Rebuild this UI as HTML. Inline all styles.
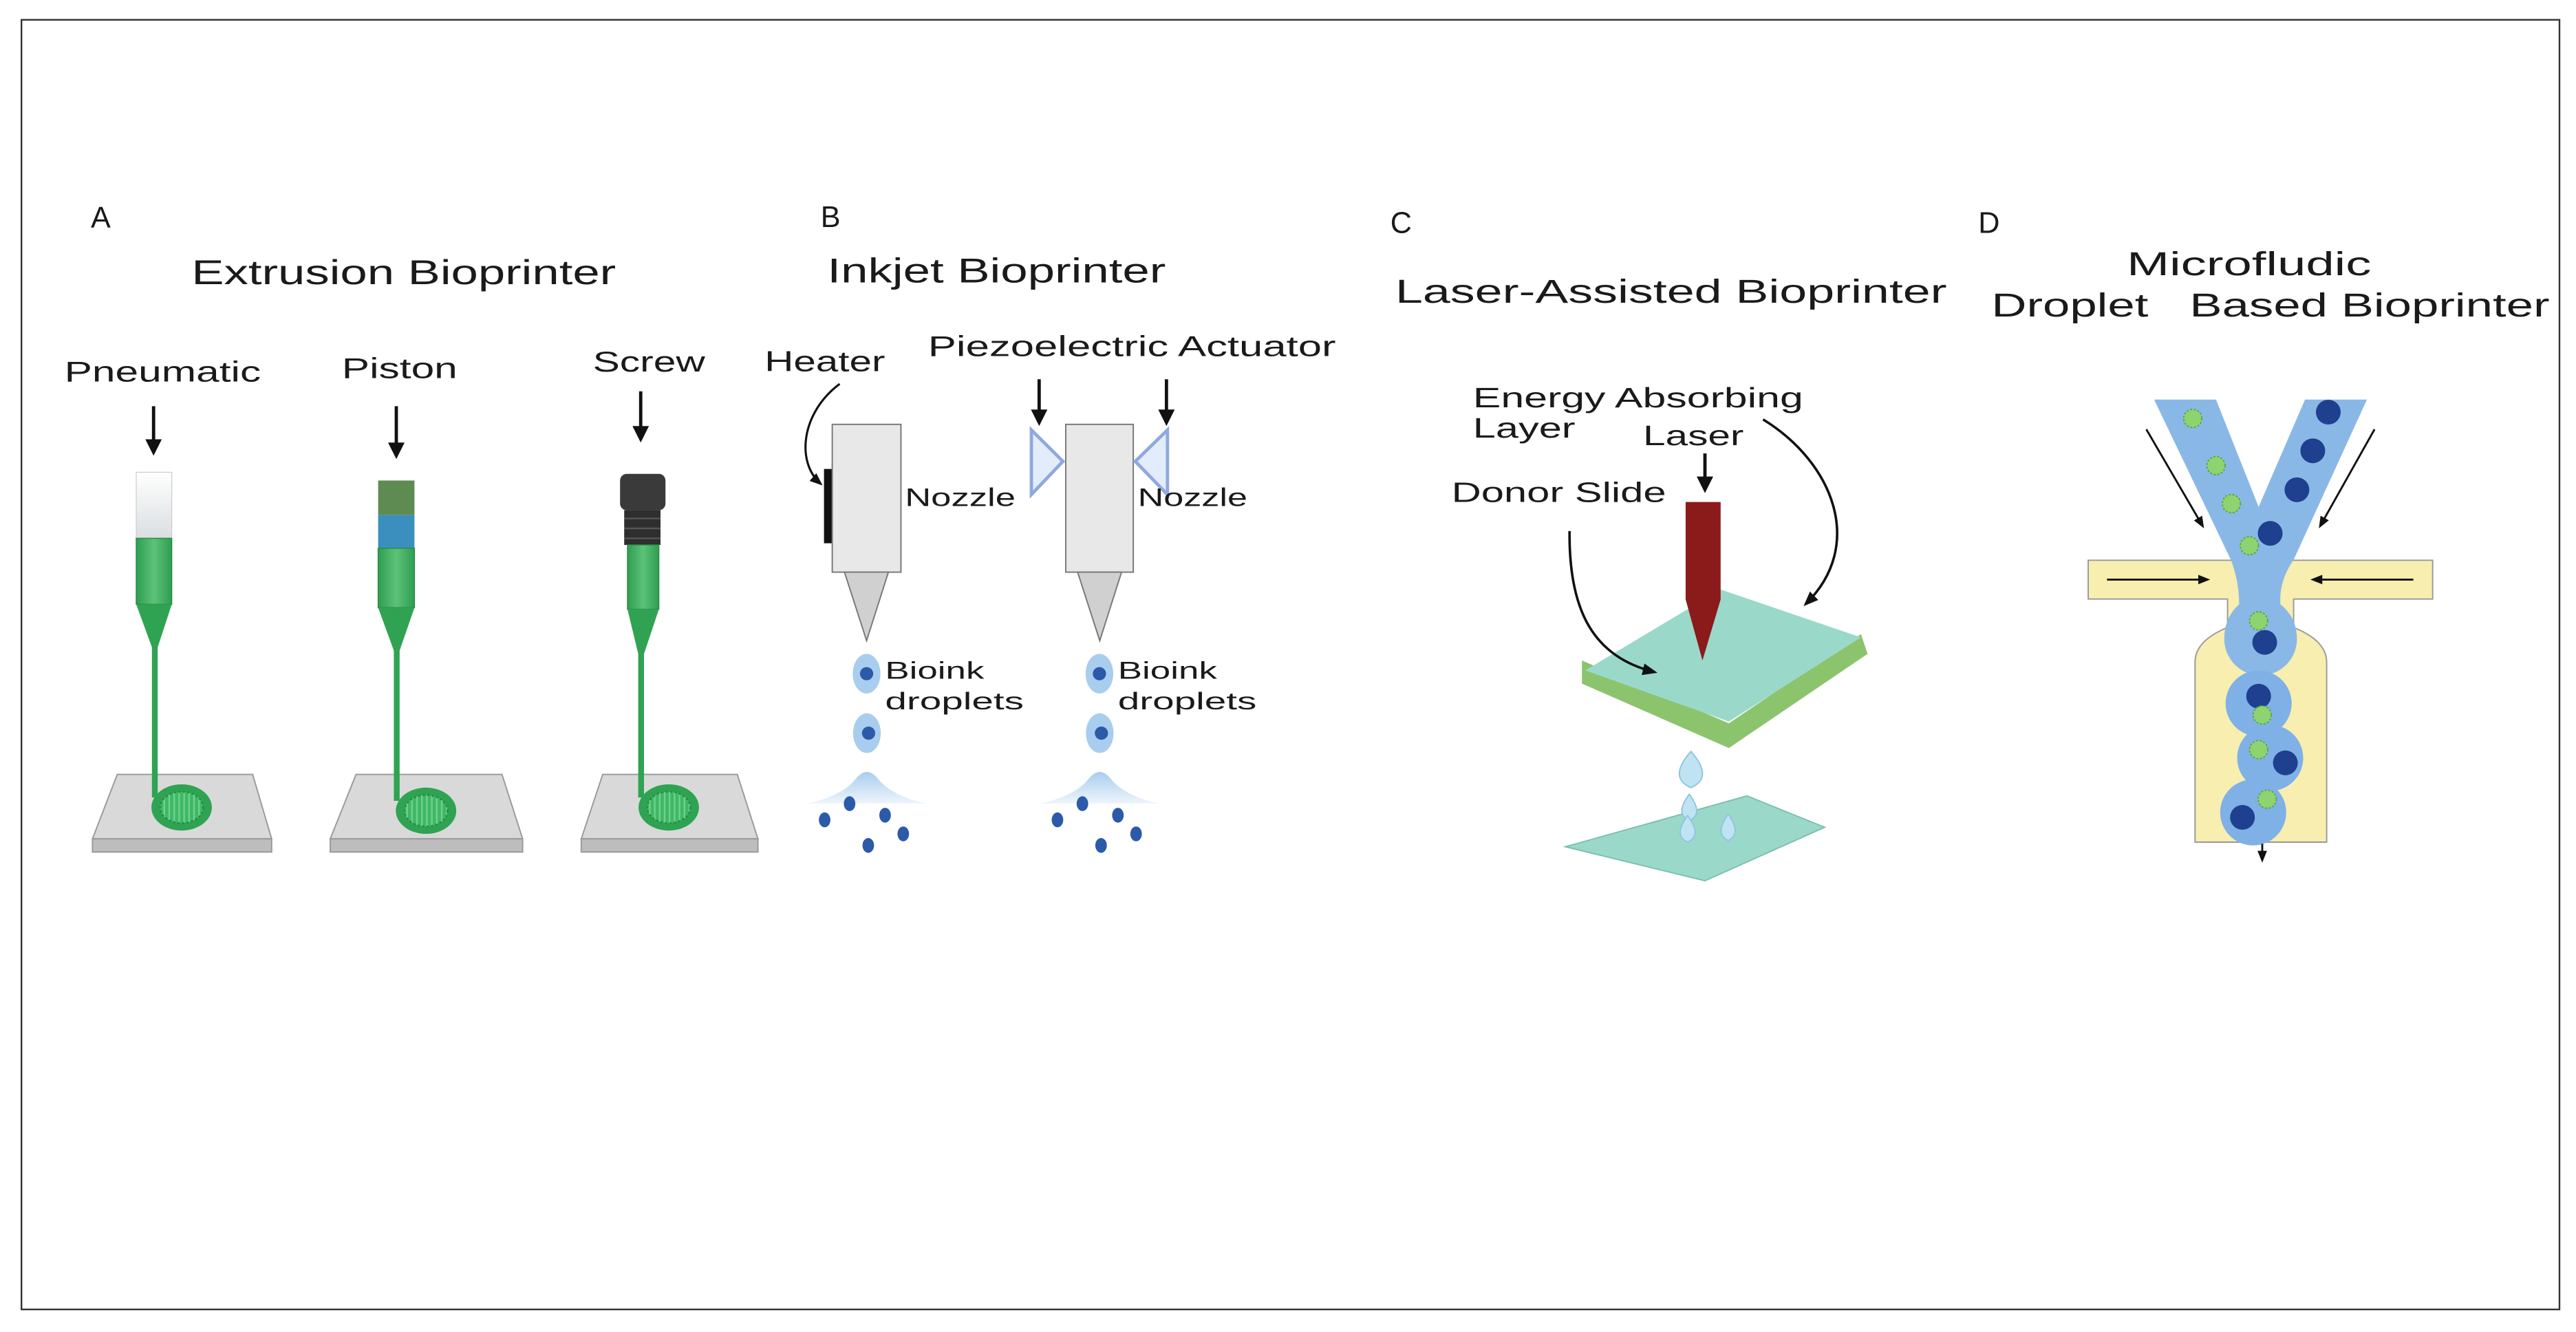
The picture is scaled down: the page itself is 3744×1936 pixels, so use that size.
<!DOCTYPE html>
<html><head><meta charset="utf-8"><style>html,body{margin:0;padding:0;background:#fff}svg{display:block}text{font-family:"Liberation Sans",sans-serif;fill:#1a1a1a}</style></head>
<body>
<svg width="3744" height="1936" viewBox="0 0 1560 806.67" xmlns="http://www.w3.org/2000/svg">
<defs>
<marker id="ah" viewBox="0 0 10 10" refX="8" refY="5" markerWidth="5" markerHeight="5" orient="auto"><path d="M0,0L10,5L0,10z" fill="#111"/></marker>
<marker id="ahs" viewBox="0 0 10 10" refX="8" refY="5" markerWidth="6" markerHeight="6" orient="auto"><path d="M0,1L10,5L0,9z" fill="#111"/></marker>
<linearGradient id="tubeTop" x1="0" x2="0" y1="0" y2="1"><stop offset="0" stop-color="#fff"/><stop offset="1" stop-color="#d8dde0"/></linearGradient>
<linearGradient id="grn" x1="0" x2="1"><stop offset="0" stop-color="#2e9e50"/><stop offset="0.5" stop-color="#5cc27a"/><stop offset="1" stop-color="#2e9e50"/></linearGradient>
<linearGradient id="mound" x1="0" x2="0" y1="0" y2="1"><stop offset="0" stop-color="#a9cdee"/><stop offset="1" stop-color="#eef5fc"/></linearGradient>
<pattern id="stripe" width="3" height="10" patternUnits="userSpaceOnUse"><rect width="3" height="10" fill="#3fb864"/><rect width="1" height="10" fill="#6fd08e"/></pattern>
</defs>
<rect x="13" y="12" width="1537" height="781" fill="none" stroke="#333" stroke-width="1"/>

<!-- Panel A -->
<text x="55" y="138" font-size="18">A</text>
<text x="116" y="172" font-size="21" textLength="257" lengthAdjust="spacingAndGlyphs">Extrusion Bioprinter</text>
<text x="39" y="231" font-size="17.5" textLength="119" lengthAdjust="spacingAndGlyphs">Pneumatic</text>
<text x="207" y="229" font-size="17.5" textLength="70" lengthAdjust="spacingAndGlyphs">Piston</text>
<text x="359" y="225" font-size="17.5" textLength="68" lengthAdjust="spacingAndGlyphs">Screw</text>
<g stroke="#111" stroke-width="2" marker-end="url(#ah)">
<line x1="93" y1="246" x2="93" y2="274"/><line x1="240" y1="246" x2="240" y2="276"/><line x1="388" y1="237" x2="388" y2="266"/>
</g>
<g stroke="#999" stroke-width="0.8">
<polygon points="71,469 153,469 164.5,508 56,508" fill="#d9d9d9"/><rect x="56" y="508" width="108.5" height="8" fill="#bdbdbd"/>
<polygon points="215.6,469 304,469 316.5,508 200,508" fill="#d9d9d9"/><rect x="200" y="508" width="116.5" height="8" fill="#bdbdbd"/>
<polygon points="365,469 446.5,469 459,508 352,508" fill="#d9d9d9"/><rect x="352" y="508" width="107" height="8" fill="#bdbdbd"/>
</g>
<rect x="82.5" y="286" width="21.5" height="42" fill="url(#tubeTop)" stroke="#ccc" stroke-width="0.5"/>
<rect x="82.5" y="326" width="21.5" height="40" fill="url(#grn)" stroke="#2a8a45" stroke-width="0.6"/>
<polygon points="82.5,366 104,366 95.5,392 92,392" fill="#2fa352"/>
<rect x="92" y="391" width="3.5" height="92" fill="#2fa352"/>
<ellipse cx="110" cy="489" rx="18.3" ry="14" fill="#2fa352"/><ellipse cx="110" cy="489" rx="13" ry="9.5" fill="url(#stripe)" stroke="#228a40" stroke-dasharray="1.2 1.5"/>
<rect x="229" y="291" width="22" height="21" fill="#5e8b52"/>
<rect x="229" y="312" width="22" height="20" fill="#3a8fbf"/>
<rect x="229" y="332" width="22" height="36" fill="url(#grn)" stroke="#2a8a45" stroke-width="0.6"/>
<polygon points="229,368 251,368 242,394 238.5,394" fill="#2fa352"/>
<rect x="238.5" y="393" width="3.5" height="92" fill="#2fa352"/>
<ellipse cx="258" cy="491" rx="18.3" ry="14" fill="#2fa352"/><ellipse cx="258" cy="491" rx="13" ry="9.5" fill="url(#stripe)" stroke="#228a40" stroke-dasharray="1.2 1.5"/>
<rect x="375.5" y="287" width="27.5" height="22" rx="4" fill="#3a3a3a"/>
<rect x="378" y="309" width="22" height="21" fill="#2e2e2e"/>
<g stroke="#555" stroke-width="1"><line x1="378" y1="314" x2="400" y2="314"/><line x1="378" y1="320" x2="400" y2="320"/><line x1="378" y1="326" x2="400" y2="326"/></g>
<rect x="380" y="330" width="19" height="39" fill="url(#grn)" stroke="#2a8a45" stroke-width="0.6"/>
<polygon points="380,369 399,369 390,396 386.5,396" fill="#2fa352"/>
<rect x="386.5" y="395" width="3.5" height="88" fill="#2fa352"/>
<ellipse cx="405" cy="489" rx="18.3" ry="14" fill="#2fa352"/><ellipse cx="405" cy="489" rx="13" ry="9.5" fill="url(#stripe)" stroke="#228a40" stroke-dasharray="1.2 1.5"/>

<!-- Panel B -->
<text x="497" y="137.5" font-size="18">B</text>
<text x="501" y="171" font-size="21" textLength="205" lengthAdjust="spacingAndGlyphs">Inkjet Bioprinter</text>
<text x="463" y="224.7" font-size="17.5" textLength="73" lengthAdjust="spacingAndGlyphs">Heater</text>
<text x="562" y="215.7" font-size="17.5" textLength="247" lengthAdjust="spacingAndGlyphs">Piezoelectric Actuator</text>
<path d="M508.5,232.5 C485,250 482,280 497,293" fill="none" stroke="#111" stroke-width="1.3" marker-end="url(#ahs)"/>
<rect x="499" y="284" width="5.5" height="45" fill="#111"/>
<g fill="#e8e8e8" stroke="#777" stroke-width="0.8">
<rect x="504" y="257" width="41.6" height="89.5"/><polygon points="511.4,346.5 538,346.5 524.8,388" fill="#d0d0d0"/>
<rect x="645.4" y="257" width="40.9" height="89.5"/><polygon points="652.6,346.5 679.2,346.5 666,388" fill="#d0d0d0"/>
</g>
<g fill="#e3ecfa" stroke="#8fa8e0" stroke-width="2"><polygon points="624.6,260.4 643.7,279.4 624.6,299.5"/><polygon points="707,260.4 687.5,279.4 707,299.5"/></g>
<g stroke="#111" stroke-width="2" marker-end="url(#ah)"><line x1="629.3" y1="229.7" x2="629.3" y2="256"/><line x1="706.4" y1="229.7" x2="706.4" y2="256"/></g>
<text x="548" y="306.5" font-size="15.5" textLength="67" lengthAdjust="spacingAndGlyphs">Nozzle</text>
<text x="689" y="306.5" font-size="15.5" textLength="66.4" lengthAdjust="spacingAndGlyphs">Nozzle</text>
<g id="drops">
<ellipse cx="524.8" cy="408" rx="8.4" ry="12" fill="#a9cdee"/><circle cx="524.8" cy="408" r="4" fill="#2b5aa8"/>
<ellipse cx="525" cy="444" rx="8.4" ry="12" fill="#a9cdee"/><circle cx="526" cy="444" r="4" fill="#2b5aa8"/>
<path d="M489,486.6 Q510,482 518,472 Q525,463 532,472 Q540,482 561,486.6 Z" fill="url(#mound)"/>
<g fill="#2b5aa8"><ellipse cx="499.4" cy="496.5" rx="3.5" ry="4.5"/><ellipse cx="514.5" cy="486.7" rx="3.5" ry="4.5"/><ellipse cx="536" cy="493.7" rx="3.5" ry="4.5"/><ellipse cx="547" cy="505" rx="3.5" ry="4.5"/><ellipse cx="525.8" cy="512" rx="3.5" ry="4.5"/></g>
</g>
<use href="#drops" transform="translate(141,0)"/>
<text x="536" y="411" font-size="14.5" textLength="60" lengthAdjust="spacingAndGlyphs">Bioink</text>
<text x="536" y="429.5" font-size="14.5" textLength="84" lengthAdjust="spacingAndGlyphs">droplets</text>
<text x="677" y="411" font-size="14.5" textLength="60" lengthAdjust="spacingAndGlyphs">Bioink</text>
<text x="677" y="429.5" font-size="14.5" textLength="84" lengthAdjust="spacingAndGlyphs">droplets</text>

<!-- Panel C -->
<text x="842" y="141" font-size="18">C</text>
<text x="845" y="183.4" font-size="20" textLength="334" lengthAdjust="spacingAndGlyphs">Laser-Assisted Bioprinter</text>
<text x="892" y="246.6" font-size="17" textLength="200" lengthAdjust="spacingAndGlyphs">Energy Absorbing</text>
<text x="892" y="265" font-size="17" textLength="62" lengthAdjust="spacingAndGlyphs">Layer</text>
<text x="995" y="269.6" font-size="17" textLength="61" lengthAdjust="spacingAndGlyphs">Laser</text>
<text x="879" y="304" font-size="17" textLength="130" lengthAdjust="spacingAndGlyphs">Donor Slide</text>
<line x1="1032.5" y1="274.6" x2="1032.5" y2="296.6" stroke="#111" stroke-width="2" marker-end="url(#ah)"/>
<polygon points="958,400 1047,438 1127,384 1131,396 1047,453 958,414" fill="#8cc46e"/>
<polygon points="1042,357 1127,386 1047,437 960,406" fill="#9ad9c9"/>
<polygon points="1020.8,304 1042,304 1042,363 1031,400 1020.8,363" fill="#8b1a1a"/>
<path d="M950.5,321.6 C950,370 965,398 1002,407" fill="none" stroke="#111" stroke-width="1.5" marker-end="url(#ahs)"/>
<path d="M1067.7,254 C1110,280 1130,330 1093.5,365.8" fill="none" stroke="#111" stroke-width="1.5" marker-end="url(#ahs)"/>
<polygon points="948,512.8 1058,482 1105,501 1032.5,533.4" fill="#9ad9c9" stroke="#7bbfae" stroke-width="0.8"/>
<g fill="#bfe3f2" stroke="#8cc6e0" stroke-width="0.8">
<path d="M1024,455 Q1010,471 1024,477 Q1038,471 1024,455Z"/><path d="M1023,481 Q1014,493 1023,497 Q1032,493 1023,481Z"/>
<path d="M1022,494 Q1013,506 1022,510 Q1031,506 1022,494Z"/><path d="M1046.6,493 Q1038,505 1046.6,509 Q1055,505 1046.6,493Z"/>
</g>

<!-- Panel D -->
<text x="1198" y="141" font-size="18">D</text>
<text x="1288" y="166.6" font-size="20" textLength="148" lengthAdjust="spacingAndGlyphs">Microfludic</text>
<text x="1206" y="191.6" font-size="20" textLength="95" lengthAdjust="spacingAndGlyphs">Droplet</text>
<text x="1326" y="191.6" font-size="20" textLength="218" lengthAdjust="spacingAndGlyphs">Based Bioprinter</text>
<path d="M1264.6,339.3 L1473.2,339.3 L1473.2,362.8 L1389,362.8 L1389,380 Q1409,388 1409,401 L1409,510 L1329.3,510 L1329.3,401 Q1329.3,388 1349,380 L1349,362.8 L1264.6,362.8Z" fill="#f7eeb0" stroke="#999" stroke-width="0.8"/>
<path d="M1304.5,242 L1342,242 L1367.8,307 L1395.9,242 L1433.4,242 L1389,339 Q1380,352 1381,366 Q1391,374 1391,387 A22,22 0 0 1 1347,387 Q1347,374 1356,366 Q1356,352 1351,339Z" fill="#8ab8e6"/>
<g fill="#7fb1e6"><circle cx="1367.8" cy="426" r="20"/><circle cx="1374.8" cy="459" r="20"/><circle cx="1364.5" cy="492" r="20"/></g>
<g fill="#1f3f8f"><circle cx="1410" cy="249.6" r="7.5"/><circle cx="1400.6" cy="273" r="7.5"/><circle cx="1391" cy="296.6" r="7.5"/><circle cx="1374.8" cy="323" r="7.5"/><circle cx="1371.5" cy="389" r="7.5"/><circle cx="1367.8" cy="421.6" r="7.5"/><circle cx="1384" cy="462" r="7.5"/><circle cx="1358" cy="495" r="7.5"/></g>
<g fill="#8ed36f" stroke="#5aa544" stroke-width="0.8" stroke-dasharray="1.2 1"><circle cx="1327.9" cy="253.4" r="5.5"/><circle cx="1342" cy="282" r="5.5"/><circle cx="1351.3" cy="305" r="5.5"/><circle cx="1362.2" cy="330.5" r="5.5"/><circle cx="1367.8" cy="376" r="5.5"/><circle cx="1370" cy="433" r="5.5"/><circle cx="1367.8" cy="454" r="5.5"/><circle cx="1373" cy="484" r="5.5"/></g>
<g stroke="#111" stroke-width="1.2" marker-end="url(#ahs)">
<line x1="1299.8" y1="260" x2="1334" y2="318.7"/><line x1="1438" y1="260" x2="1405" y2="318.7"/>
<line x1="1276" y1="351" x2="1337" y2="351"/><line x1="1461.5" y1="351" x2="1400.6" y2="351"/>
<line x1="1370" y1="511" x2="1370" y2="521"/>
</g>
</svg>
</body></html>
